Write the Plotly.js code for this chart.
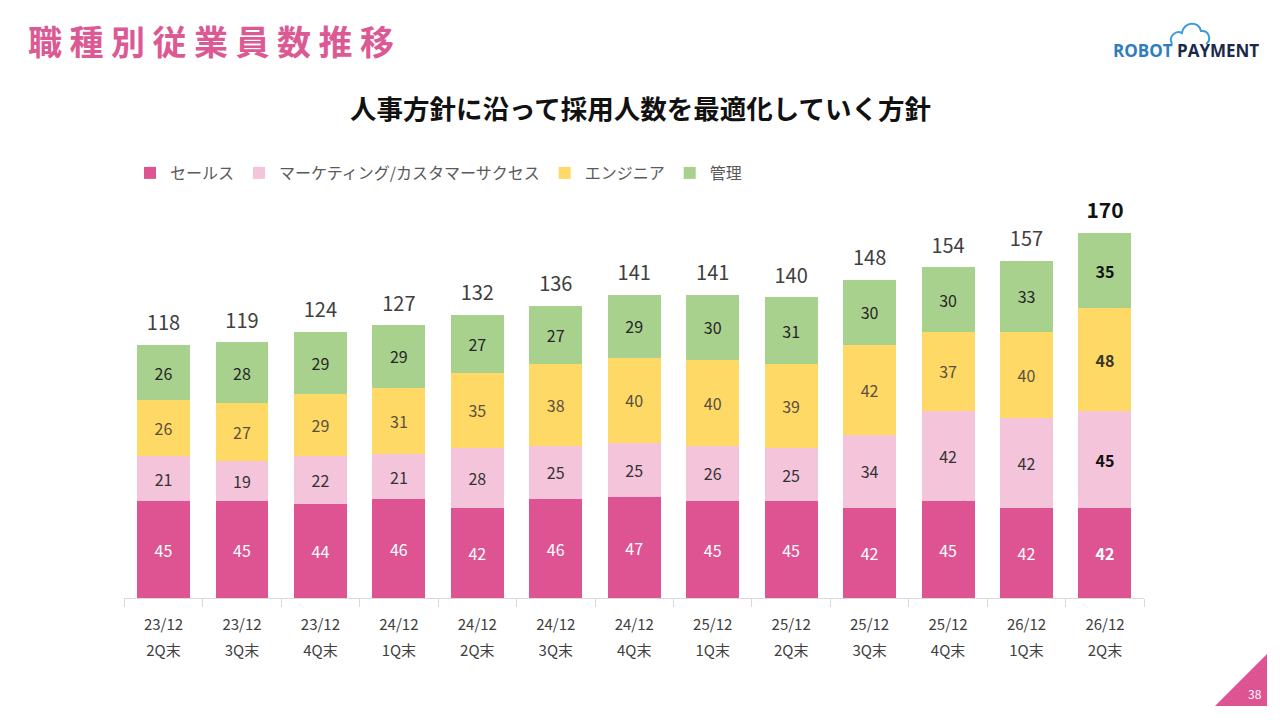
<!DOCTYPE html>
<html>
<head>
<meta charset="utf-8">
<script src="https://cdn.plot.ly/plotly-3.0.1.min.js"></script>
<style>
html,body{margin:0;padding:0;background:#fff;}
#chart{width:1280px;height:720px;}
</style>
</head>
<body>
<div id="chart"></div>
<script>
// ---- data ----
const periods  = ['23/12','23/12','23/12','24/12','24/12','24/12','24/12','25/12','25/12','25/12','25/12','26/12','26/12'];
const quarters = ['2Q末','3Q末','4Q末','1Q末','2Q末','3Q末','4Q末','1Q末','2Q末','3Q末','4Q末','1Q末','2Q末'];
const sales       = [45,45,44,46,42,46,47,45,45,42,45,42,42];
const marketing   = [21,19,22,21,28,25,25,26,25,34,42,42,45];
const engineering = [26,27,29,31,35,38,40,40,39,42,37,40,48];
const management  = [26,28,29,29,27,27,29,30,31,30,30,33,35];
const totals      = [118,119,124,127,132,136,141,141,140,148,154,157,170];
const seriesNames = ['セールス','マーケティング/カスタマーサクセス','エンジニア','管理'];

// ---- build ----
const FONT = '"Noto Sans CJK JP", "Noto Sans", sans-serif';
const cats = periods.map((p,i)=>p+'\u2009'+quarters[i]);
const tickText = periods.map((p,i)=>"<span style='font-size:15px'>"+p+"</span><br><span style='font-size:15px'>"+quarters[i]+"</span>");
const last = cats.length-1;

function segTrace(name, vals, color, txtColor, lastColor){
  return {
    type:'bar', name:name, x:cats, y:vals,
    marker:{color:color, line:{width:0}},
    text: vals.map((v,i)=> i===last ? '<b>'+v+'</b>' : String(v)),
    textposition:'inside', insidetextanchor:'middle', textangle:0,
    constraintext:'none',
    textfont:{family:FONT, size:16, color: vals.map((v,i)=> i===last ? lastColor : txtColor)},
    hoverinfo:'skip'
  };
}
const traces = [
  segTrace(seriesNames[0], sales, '#DE5493', '#FFFFFF', '#FFFFFF'),
  segTrace(seriesNames[1], marketing, '#F4C4DA', '#333333', '#111111'),
  segTrace(seriesNames[2], engineering, '#FFD966', '#5A5040', '#3A3428'),
  segTrace(seriesNames[3], management, '#A9D18E', '#262626', '#111111'),
  {
    type:'scatter', mode:'markers+text', x:cats, y:totals, showlegend:false,
    marker:{size:14, opacity:0},
    text: totals.map((v,i)=> i===last ? '<b>'+v+'</b>' : String(v)),
    textposition:'top center', cliponaxis:false,
    textfont:{family:FONT, size:totals.map((v,i)=> i===last?21:20), color:totals.map((v,i)=> i===last?'#111111':'#404040')},
    hoverinfo:'skip'
  }
];

function px(x){return x/1280;}
function py(y){return 1-y/720;}

const cloud = 'M '+px(1172)+' '+py(44)+
  ' C '+px(1168)+' '+py(36)+' '+px(1176)+' '+py(30)+' '+px(1182)+' '+py(33)+
  ' C '+px(1183)+' '+py(22)+' '+px(1199)+' '+py(20)+' '+px(1201)+' '+py(31)+
  ' C '+px(1209)+' '+py(30)+' '+px(1212)+' '+py(40)+' '+px(1206)+' '+py(44);

const layout = {
  width:1280, height:720,
  margin:{l:0,r:0,t:0,b:0},
  paper_bgcolor:'#ffffff', plot_bgcolor:'#ffffff',
  font:{family:FONT, color:'#404040'},
  title:{text:'職種別従業員数推移', x:px(28), xanchor:'left', y:py(43), yanchor:'middle',
         font:{family:FONT, size:34, color:'#DC5A93', weight:700}},
  barmode:'stack', bargap:0.325,
  showlegend:true,
  legend:{orientation:'h', x:px(130), xanchor:'left', y:py(173), yanchor:'middle',
          traceorder:'normal', font:{family:FONT, size:16, color:'#595959'},
          itemwidth:30, bgcolor:'rgba(0,0,0,0)'},
  xaxis:{domain:[px(124.3), px(1144.2)], type:'category', categoryorder:'array', categoryarray:cats,
         range:[-0.5, cats.length-0.5], autorange:false,
         tickvals:cats, ticktext:tickText,
         showline:true, linecolor:'#D9D9D9', linewidth:1,
         ticks:'outside', tickson:'boundaries', ticklen:8, tickcolor:'#D9D9D9',
         ticklabelstandoff:7,
         tickfont:{family:FONT, size:20, color:'#404040'}, showgrid:false, zeroline:false, fixedrange:true},
  yaxis:{domain:[py(598), py(211.5)], range:[0,180], visible:false, fixedrange:true},
  annotations:[
    {xref:'paper', yref:'paper', x:px(640), y:py(107), xanchor:'center', yanchor:'middle', showarrow:false,
     text:'<b>人事方針に沿って採用人数を最適化していく方針</b>', font:{family:FONT, size:26.5, color:'#111111'}},
    {xref:'paper', yref:'paper', x:px(1186), y:py(51), xanchor:'center', yanchor:'middle', showarrow:false,
     text:"<b><span style='color:#2E7DC0'>ROBOT</span> <span style='color:#1B2A4A'>PAYMENT</span></b>",
     font:{family:'"Open Sans", sans-serif', size:17}},
    {xref:'paper', yref:'paper', x:px(1255), y:py(693), xanchor:'center', yanchor:'middle', showarrow:false,
     text:'38', font:{family:FONT, size:12, color:'#ffffff'}}
  ],
  shapes:[
    {type:'path', xref:'paper', yref:'paper', path:cloud, line:{color:'#3C9BD8', width:2}, fillcolor:'rgba(0,0,0,0)'},
    {type:'path', xref:'paper', yref:'paper',
     path:'M '+px(1215)+' '+py(706)+' L '+px(1267)+' '+py(654)+' L '+px(1267)+' '+py(706)+' Z',
     fillcolor:'#DE5493', line:{width:0}}
  ]
};

Plotly.newPlot('chart', traces, layout, {displayModeBar:false, staticPlot:true}).then(()=>{
  document.querySelectorAll('.gtitle').forEach(t=>{t.style.letterSpacing='7.5px';});
});
</script>
</body>
</html>
